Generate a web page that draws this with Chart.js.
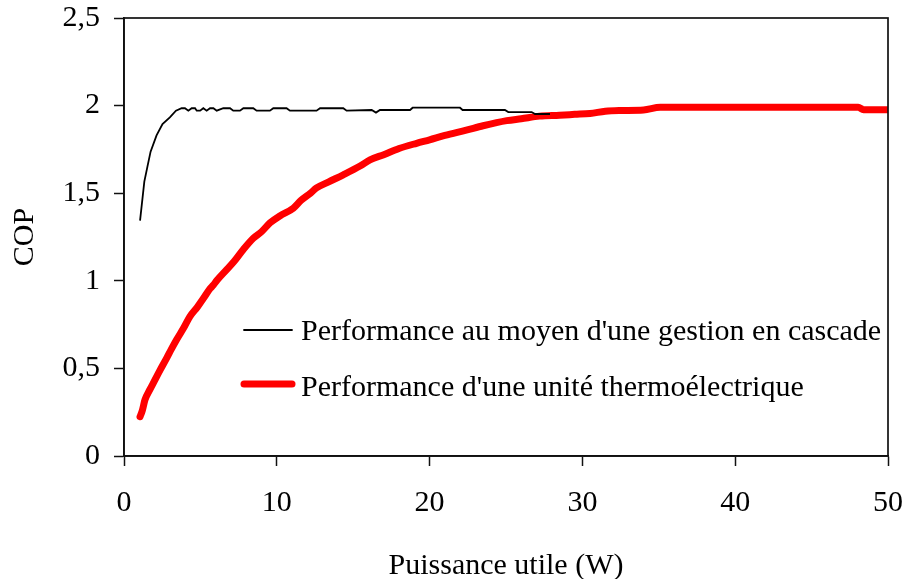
<!DOCTYPE html>
<html>
<head>
<meta charset="utf-8">
<script src="https://cdn.jsdelivr.net/npm/chart.js@4"></script>
<style>
html,body{margin:0;padding:0;background:#fff;}
#wrap{position:relative;width:905px;height:579px;}
</style>
</head>
<body>
<div id="wrap"><canvas id="c" width="905" height="579"></canvas></div>
<script>
// Series 1: Performance au moyen d'une gestion en cascade (black)
const cascadeX = [1.05,1.33,1.53,1.74,2.13,2.52,3.0,3.4,3.77,3.99,4.21,4.43,4.65,4.76,4.98,5.19,5.41,5.63,5.85,6.07,6.5,6.94,7.15,7.59,7.81,8.46,8.68,9.55,9.77,10.64,10.86,12.6,12.83,14.35,14.57,16.21,16.49,16.75,18.72,18.89,21.99,22.16,24.93,25.15,26.68,26.9,27.88];
const cascadeY = [1.343,1.566,1.65,1.737,1.83,1.895,1.933,1.971,1.985,1.985,1.971,1.985,1.985,1.971,1.971,1.985,1.971,1.985,1.985,1.971,1.985,1.985,1.971,1.971,1.985,1.985,1.971,1.971,1.985,1.985,1.971,1.971,1.985,1.985,1.971,1.975,1.96,1.975,1.975,1.988,1.988,1.975,1.975,1.963,1.963,1.952,1.952];

// Series 2: Performance d'une unité thermoélectrique (red)
const thermoX = [1.05,1.2,1.37,1.7,2.0,2.36,2.8,3.1,3.45,3.9,4.32,4.8,5.2,5.63,5.85,6.1,6.72,7.2,7.81,8.46,9.0,9.55,10.2,11.08,11.6,12.2,12.6,13.4,14.35,15.45,16.1,17.0,18.0,19.15,20.0,21.0,22.4,23.5,25.05,26.0,27.2,28.5,29.5,30.5,31.5,32.4,34.0,35.1,40,45,48.05,48.4,50];
const thermoY = [0.224,0.26,0.32,0.38,0.43,0.49,0.56,0.61,0.665,0.73,0.797,0.85,0.9,0.955,0.976,1.005,1.064,1.11,1.179,1.243,1.28,1.33,1.37,1.414,1.46,1.5,1.53,1.565,1.605,1.655,1.69,1.72,1.755,1.785,1.805,1.83,1.86,1.885,1.914,1.925,1.94,1.945,1.95,1.955,1.968,1.972,1.975,1.99,1.99,1.99,1.99,1.977,1.977];

const seriesNames = ["Performance au moyen d'une gestion en cascade", "Performance d'une unité thermoélectrique"];
const yTickValues = [0, 0.5, 1, 1.5, 2, 2.5];
const yTickLabels = ["0", "0,5", "1", "1,5", "2", "2,5"];
const xTickValues = [0, 10, 20, 30, 40, 50];
const xTitle = "Puissance utile (W)";
const yTitle = "COP";

const FONT = "'Liberation Serif', 'Times New Roman', serif";

const toPts = (xs, ys) => xs.map((x, i) => ({x: x, y: ys[i]}));

const frameAndLegend = {
  id: 'frameAndLegend',
  afterDatasetsDraw(chart) {
    const {ctx, chartArea: a} = chart;
    ctx.save();
    ctx.strokeStyle = '#111';
    ctx.lineWidth = 1.7;
    ctx.strokeRect(a.left, a.top, a.right - a.left, a.bottom - a.top);
    // legend inside plot
    const items = [
      {color: '#000', width: 1.8, lineY: 330, baseY: 340},
      {color: '#ff0000', width: 7, lineY: 384, baseY: 396}
    ];
    ctx.font = "30px " + FONT;
    ctx.textBaseline = 'alphabetic';
    ctx.textAlign = 'left';
    items.forEach((it, i) => {
      ctx.beginPath();
      ctx.strokeStyle = it.color;
      ctx.lineWidth = it.width;
      ctx.lineCap = 'round';
      ctx.moveTo(a.left + 120, it.lineY);
      ctx.lineTo(a.left + 168, it.lineY);
      ctx.stroke();
      ctx.fillStyle = '#000';
      ctx.fillText(seriesNames[i], a.left + 177, it.baseY);
    });
    ctx.restore();
  }
};

new Chart(document.getElementById('c'), {
  type: 'scatter',
  data: {
    datasets: [
      {
        label: seriesNames[0],
        data: toPts(cascadeX, cascadeY),
        showLine: true,
        borderColor: '#000',
        borderWidth: 1.8,
        pointRadius: 0,
        tension: 0,
        order: 1
      },
      {
        label: seriesNames[1],
        data: toPts(thermoX, thermoY),
        showLine: true,
        borderColor: '#ff0000',
        borderWidth: 7,
        borderCapStyle: 'round',
        borderJoinStyle: 'round',
        pointRadius: 0,
        cubicInterpolationMode: 'monotone',
        order: 2
      }
    ]
  },
  options: {
    responsive: false,
    animation: false,
    devicePixelRatio: 1,
    layout: {padding: {top: 18, right: 17, left: 0, bottom: 0}},
    plugins: {legend: {display: false}, tooltip: {enabled: false}},
    scales: {
      x: {
        type: 'linear',
        min: 0, max: 50,
        afterBuildTicks: (s) => { s.ticks = xTickValues.map(v => ({value: v})); },
        afterFit: (s) => { s.height = 123; s.paddingLeft = 0; s.paddingRight = 0; },
        ticks: {
          color: '#000',
          font: {family: FONT, size: 30},
          padding: 19,
          maxRotation: 0,
          callback: (v) => String(v)
        },
        grid: {drawOnChartArea: false, tickLength: 10, color: '#111', tickWidth: 1.5},
        border: {display: true, color: '#111', width: 1.7},
        title: {display: true, text: xTitle, color: '#000',
                font: {family: FONT, size: 30, lineHeight: 0.8},
                padding: {top: 0, bottom: 1}}
      },
      y: {
        type: 'linear',
        min: 0, max: 2.5,
        afterBuildTicks: (s) => { s.ticks = yTickValues.map(v => ({value: v})); },
        afterFit: (s) => { s.width = 124; s.paddingTop = 0; s.paddingBottom = 0; },
        ticks: {
          color: '#000',
          font: {family: FONT, size: 30},
          padding: 14,
          callback: (v) => yTickLabels[yTickValues.indexOf(v)]
        },
        grid: {drawOnChartArea: false, tickLength: 10, color: '#111', tickWidth: 1.5},
        border: {display: true, color: '#111', width: 1.7},
        title: {display: true, text: yTitle, color: '#000',
                font: {family: FONT, size: 30, lineHeight: 1.2},
                padding: {top: 7, bottom: 0}}
      }
    }
  },
  plugins: [frameAndLegend]
});
</script>
</body>
</html>
